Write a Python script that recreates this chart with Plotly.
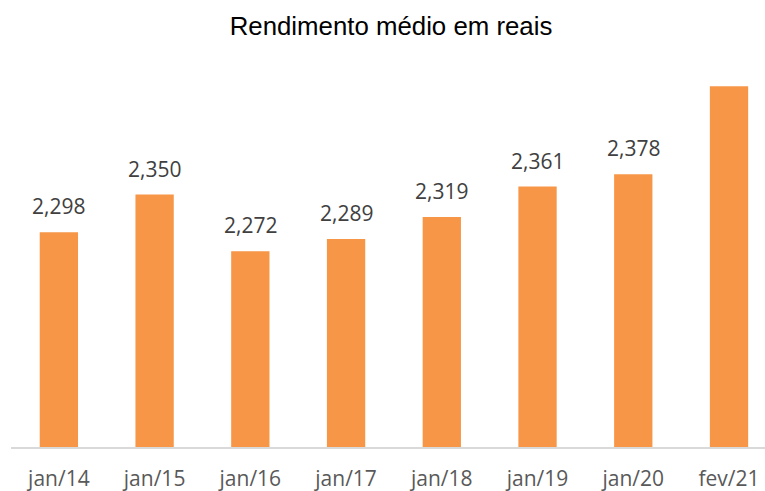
import plotly.graph_objects as go

categories = ["jan/14", "jan/15", "jan/16", "jan/17", "jan/18", "jan/19", "jan/20", "fev/21"]
values = [2298, 2350, 2272, 2289, 2319, 2361, 2378, 2499]
labels = ["2,298", "2,350", "2,272", "2,289", "2,319", "2,361", "2,378", ""]

fig = go.Figure()
fig.add_trace(go.Bar(
    x=categories, y=values,
    marker=dict(color="#F79646", line=dict(width=0)),
    hoverinfo="skip",
))

for c, v, t in zip(categories, values, labels):
    if t:
        fig.add_annotation(x=c, y=v, text=t, showarrow=False, yanchor="bottom", yshift=10,
                           font=dict(family="Open Sans", size=21, color="#404040"))

fig.update_layout(
    width=765, height=491,
    margin=dict(l=11, r=0, t=70, b=44, autoexpand=False),
    paper_bgcolor="white", plot_bgcolor="white",
    bargap=0.6,
    showlegend=False,
    title=dict(text="Rendimento médio em reais", x=391 / 765, xanchor="center",
               y=1 - 26 / 491, yref="container", yanchor="middle",
               font=dict(family="Liberation Sans", size=25.8, color="black"), automargin=False),
    xaxis=dict(range=[-0.5, 7.376], showline=True, linecolor="#D9D9D9", linewidth=1.5,
               tickfont=dict(family="Open Sans", size=21, color="#595959"), automargin=False,
               ticks="outside", ticklen=12, tickcolor="rgba(0,0,0,0)", showgrid=False),
    yaxis=dict(range=[2002.5, 2521.5], visible=False, showgrid=False, automargin=False),
)

fig.write_html("out.html", config={"displayModeBar": False},
               post_script="document.body.style.margin='0';document.body.style.overflow='hidden';")
